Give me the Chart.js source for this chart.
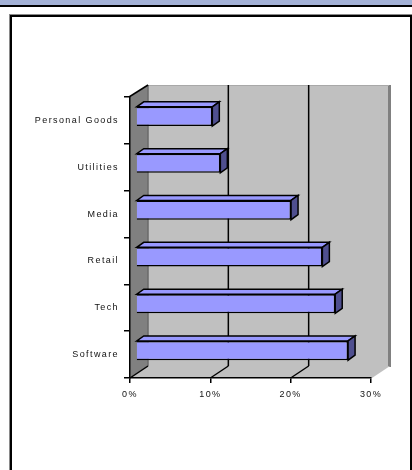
<!DOCTYPE html>
<html>
<head>
<meta charset="utf-8">
<script src="https://cdn.jsdelivr.net/npm/chart.js@4.4.1/dist/chart.umd.min.js"></script>
<style>
html,body{margin:0;padding:0;background:#fff;}
#wrap{position:absolute;left:0;top:0;width:412px;height:470px;}
</style>
</head>
<body>
<div id="wrap"><canvas id="c" width="412" height="470"></canvas></div>
<script>
const categories = ['Personal Goods', 'Utilities', 'Media', 'Retail', 'Tech', 'Software'];
const shareValues = [9.5, 10.5, 19.3, 23.2, 24.8, 26.4];
const tickValues = [0, 10, 20, 30];

const DEPTH_X = 18, DEPTH_Y = -12;      // wall depth
const BAR_SHIFT_X = 6, BAR_SHIFT_Y = -4; // bar front face depth
const BAR_DX = 7, BAR_DY = -5;           // bar thickness in depth

function poly(ctx, pts, fill, stroke, lw) {
  ctx.beginPath();
  ctx.moveTo(pts[0][0], pts[0][1]);
  for (let i = 1; i < pts.length; i++) ctx.lineTo(pts[i][0], pts[i][1]);
  ctx.closePath();
  if (fill) { ctx.fillStyle = fill; ctx.fill(); }
  if (stroke) { ctx.strokeStyle = stroke; ctx.lineWidth = lw || 1; ctx.stroke(); }
}

const scene3d = {
  id: 'scene3d',
  beforeDraw(chart) {
    const ctx = chart.ctx;
    ctx.save();
    ctx.fillStyle = '#fff';
    ctx.fillRect(0, 0, 412, 470);
    // header band
    ctx.fillStyle = '#A3B1D6';
    ctx.fillRect(0, 0, 412, 5);
    ctx.fillStyle = '#000';
    ctx.fillRect(0, 5, 412, 2);
    // frame
    ctx.fillStyle = '#8a8a8a';
    ctx.fillRect(9, 14, 403, 1);
    ctx.fillRect(9, 14, 1, 456);
    ctx.fillStyle = '#000';
    ctx.fillRect(10, 15, 402, 2);
    ctx.fillRect(10, 15, 2, 455);
    ctx.fillRect(410, 15, 2, 455);

    const a = chart.chartArea;
    const xs = chart.scales.x;
    const L = a.left, R = a.right, T = a.top, B = a.bottom;
    // side wall
    poly(ctx, [[L, T], [L + DEPTH_X, T + DEPTH_Y], [L + DEPTH_X, B + DEPTH_Y], [L, B]], '#808080');
    // back wall
    poly(ctx, [[L + DEPTH_X, T + DEPTH_Y], [R + DEPTH_X, T + DEPTH_Y], [R + DEPTH_X, B + DEPTH_Y], [L + DEPTH_X, B + DEPTH_Y]], '#C0C0C0');
    ctx.fillStyle = '#808080';
    ctx.fillRect(R + DEPTH_X - 1, T + DEPTH_Y, 3, B - T + 1);
    ctx.fillStyle = '#a8a8a8';
    ctx.fillRect(L + DEPTH_X, T + DEPTH_Y, R - L, 1);
    // floor
    poly(ctx, [[L, B], [L + DEPTH_X, B + DEPTH_Y], [R + DEPTH_X + 1, B + DEPTH_Y], [R + 1, B]], '#C0C0C0');
    poly(ctx, [[L + DEPTH_X, T + DEPTH_Y], [L + DEPTH_X, B + DEPTH_Y]], null, '#6a6a6a', 1);
    // gridlines on back wall and floor
    ctx.strokeStyle = '#000';
    ctx.lineWidth = 1.5;
    tickValues.forEach(v => {
      const px = xs.getPixelForValue(v);
      if (v > 0 && v < 30) {
        ctx.beginPath();
        ctx.moveTo(px + DEPTH_X, T + DEPTH_Y);
        ctx.lineTo(px + DEPTH_X, B + DEPTH_Y);
        ctx.stroke();
      }
      if (v < 30) {
        ctx.beginPath();
        ctx.moveTo(px, B);
        ctx.lineTo(px + DEPTH_X, B + DEPTH_Y);
        ctx.stroke();
      }
    });
    // side wall top edge
    ctx.beginPath();
    ctx.moveTo(L - 1, T);
    ctx.lineTo(L + DEPTH_X, T + DEPTH_Y);
    ctx.stroke();
    ctx.restore();
    ctx.letterSpacing = '1.4px';
  },
  beforeDatasetDraw(chart) {
    chart.ctx.save();
    chart.ctx.translate(BAR_SHIFT_X, BAR_SHIFT_Y);
  },
  afterDatasetDraw(chart, args) {
    const ctx = chart.ctx;
    const meta = args.meta;
    meta.data.forEach(el => {
      const p = el.getProps(['x', 'y', 'base', 'height'], true);
      const top = p.y - p.height / 2, bot = p.y + p.height / 2;
      ctx.lineJoin = 'miter';
      poly(ctx, [[p.base, top], [p.x, top], [p.x + BAR_DX, top + BAR_DY], [p.base + BAR_DX, top + BAR_DY]], '#9999FF', '#000', 1.5);
      poly(ctx, [[p.x, top], [p.x + BAR_DX, top + BAR_DY], [p.x + BAR_DX, bot + BAR_DY], [p.x, bot]], '#4F4F8F', '#000', 1.5);
    });
    ctx.restore();
  }
};

new Chart(document.getElementById('c'), {
  type: 'bar',
  data: {
    labels: categories,
    datasets: [{
      data: shareValues,
      backgroundColor: '#9999FF',
      borderColor: '#000',
      borderWidth: 1.5,
      barPercentage: 0.41,
      categoryPercentage: 1,
      clip: false
    }]
  },
  options: {
    indexAxis: 'y',
    responsive: false,
    animation: false,
    events: [],
    layout: { padding: { top: 97, right: 41, bottom: 0, left: 0 } },
    plugins: { legend: { display: false }, tooltip: { enabled: false } },
    scales: {
      x: {
        min: 0, max: 30,
        afterFit(s) { s.height = 92; },
        afterBuildTicks(s) { s.ticks = tickValues.map(v => ({ value: v })); },
        ticks: {
          callback: v => v + '%',
          color: '#111',
          font: { family: 'Liberation Sans, Arial, sans-serif', size: 9 },
          padding: 6,
          maxRotation: 0
        },
        grid: { drawOnChartArea: false, drawTicks: true, tickLength: 5, color: '#000', lineWidth: 1.5 },
        border: { display: true, color: '#000', width: 1.5 }
      },
      y: {
        afterFit(s) { s.width = 130; },
        ticks: {
          color: '#111',
          font: { family: 'Liberation Sans, Arial, sans-serif', size: 9 },
          padding: 5
        },
        grid: { drawOnChartArea: false, drawTicks: true, tickLength: 6, color: '#000', lineWidth: 1.5, offset: true },
        border: { display: true, color: '#000', width: 1.5 }
      }
    }
  },
  plugins: [scene3d]
});
</script>
</body>
</html>
